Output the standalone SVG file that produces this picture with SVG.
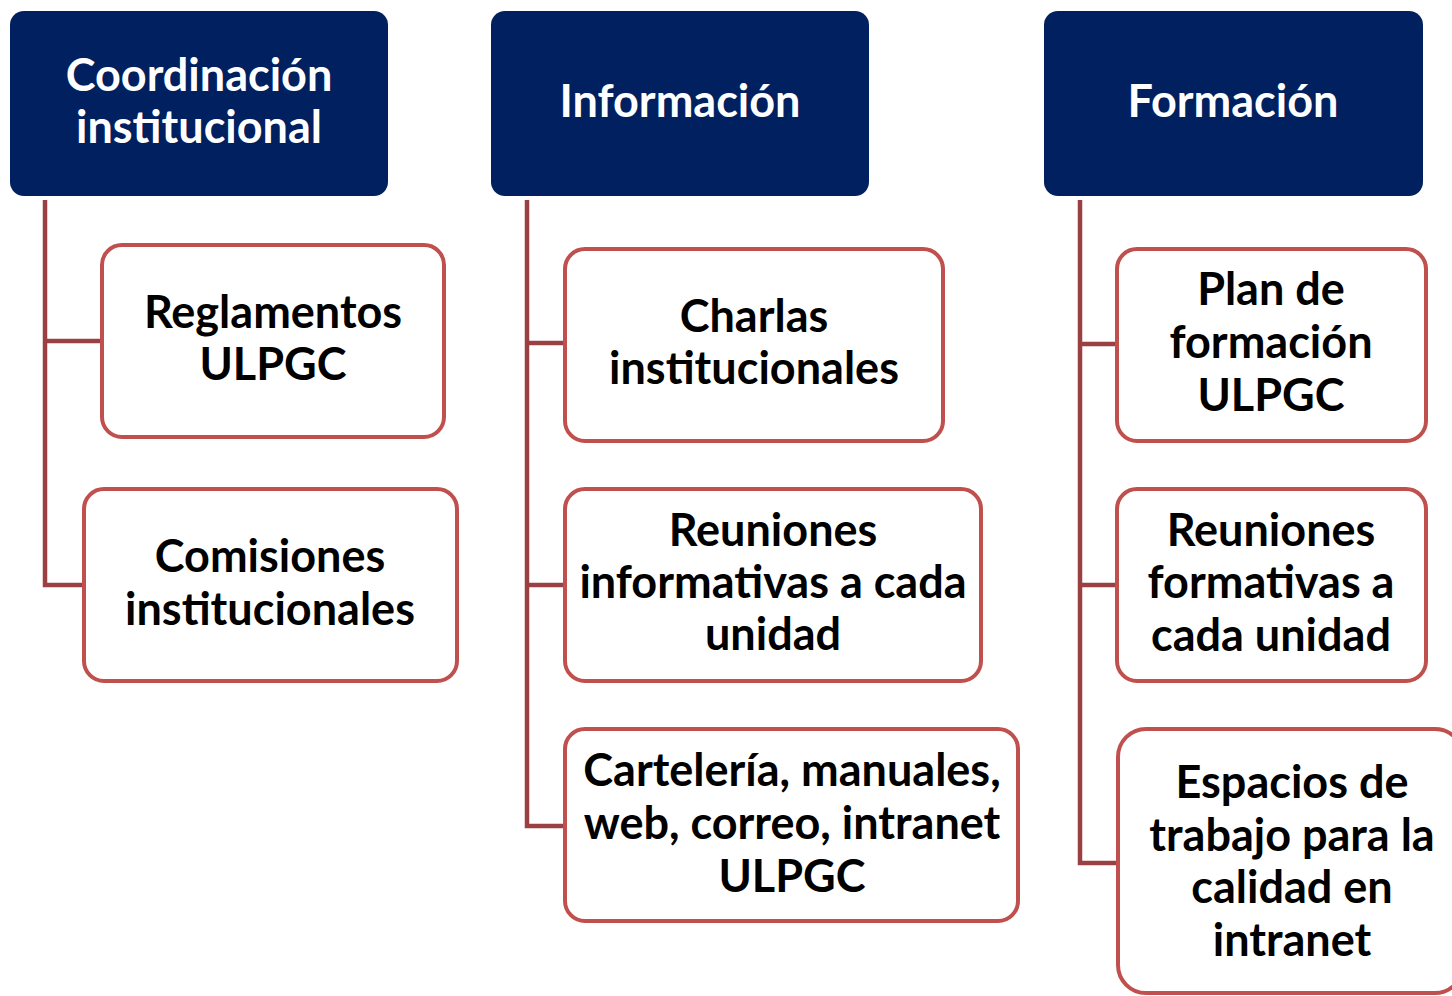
<svg xmlns="http://www.w3.org/2000/svg" width="1452" height="996" viewBox="0 0 1452 996">
<style>
.hdr{fill:#002060;}
.hdr-t{fill:#ffffff;font-family:Lato,"Open Sans",sans-serif;font-weight:bold;font-size:45px;text-anchor:middle;}
.box{fill:#ffffff;stroke:#C0504D;stroke-width:4;}
.box-t{fill:#000000;font-family:Lato,"Open Sans",sans-serif;font-weight:bold;font-size:45px;text-anchor:middle;}
.conn{fill:none;stroke:#9B4042;stroke-width:4.5;stroke-linejoin:miter;}
</style>
<rect width="1452" height="996" fill="#ffffff"/>
<g id="connectors">
<path class="conn" d="M45,200 V585 H83 M45,341 H102"/>
<path class="conn" d="M527,200 V826 H564 M527,343 H564 M527,585 H564"/>
<path class="conn" d="M1080,200 V863 H1117 M1080,344 H1117 M1080,585 H1117"/>
</g>
<g id="h1"><rect class="hdr" x="10" y="11" width="378" height="185" rx="14"/>
<text class="hdr-t" x="199" y="91">Coordinación</text><text class="hdr-t" x="199" y="143">institucional</text></g>
<g id="h2"><rect class="hdr" x="491" y="11" width="378" height="185" rx="14"/>
<text class="hdr-t" x="680" y="117">Información</text></g>
<g id="h3"><rect class="hdr" x="1044" y="11" width="379" height="185" rx="14"/>
<text class="hdr-t" x="1233" y="117">Formación</text></g>
<g id="a"><rect class="box" x="102" y="245" width="342" height="192" rx="20"/>
<text class="box-t" x="273" y="328">Reglamentos</text><text class="box-t" x="273" y="380">ULPGC</text></g>
<g id="b"><rect class="box" x="84" y="489" width="373" height="192" rx="20"/>
<text class="box-t" x="270" y="572">Comisiones</text><text class="box-t" x="270" y="625">institucionales</text></g>
<g id="c"><rect class="box" x="565" y="249" width="378" height="192" rx="20"/>
<text class="box-t" x="754" y="332">Charlas</text><text class="box-t" x="754" y="384">institucionales</text></g>
<g id="d"><rect class="box" x="565" y="489" width="416" height="192" rx="20"/>
<text class="box-t" x="773" y="546">Reuniones</text><text class="box-t" x="773" y="598">informativas a cada</text><text class="box-t" x="773" y="650">unidad</text></g>
<g id="e"><rect class="box" x="565" y="729" width="453" height="192" rx="20"/>
<text class="box-t" x="792" y="786">Cartelería, manuales,</text><text class="box-t" x="792" y="839">web, correo, intranet</text><text class="box-t" x="792" y="892">ULPGC</text></g>
<g id="f"><rect class="box" x="1117" y="249" width="309" height="192" rx="20"/>
<text class="box-t" x="1271" y="305">Plan de</text><text class="box-t" x="1271" y="358">formación</text><text class="box-t" x="1271" y="411">ULPGC</text></g>
<g id="g"><rect class="box" x="1117" y="489" width="309" height="192" rx="20"/>
<text class="box-t" x="1271" y="546">Reuniones</text><text class="box-t" x="1271" y="598">formativas a</text><text class="box-t" x="1271" y="651">cada unidad</text></g>
<g id="h"><rect class="box" x="1118" y="729" width="345" height="264" rx="28"/>
<text class="box-t" x="1292" y="798">Espacios de</text><text class="box-t" x="1292" y="851">trabajo para la</text><text class="box-t" x="1292" y="903">calidad en</text><text class="box-t" x="1292" y="956">intranet</text></g>
</svg>
